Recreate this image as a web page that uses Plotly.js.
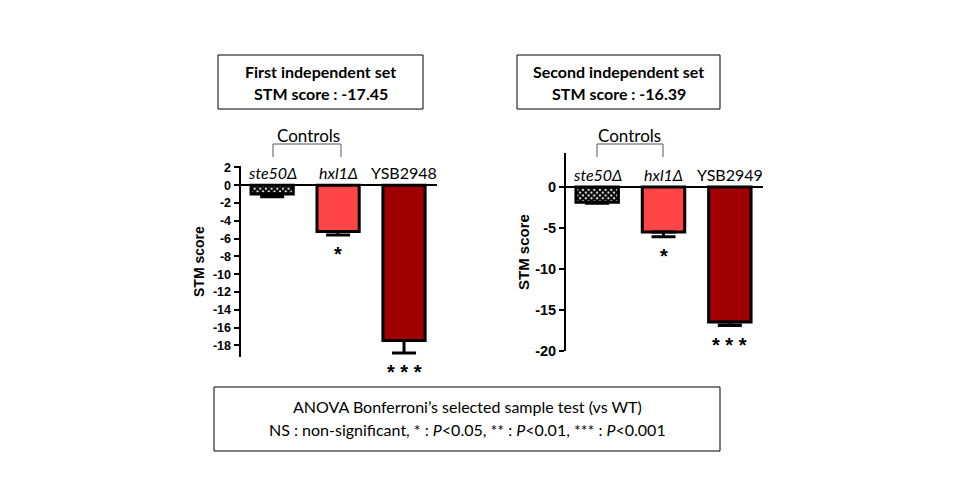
<!DOCTYPE html>
<html>
<head>
<meta charset="utf-8">
<script src="https://cdn.plot.ly/plotly-3.0.1.min.js"></script>
<style>html,body{margin:0;padding:0;background:#fff;}#chart{width:960px;height:500px;}</style>
</head>
<body>
<div id="chart"></div>
<script>
// ---- data ----
const categories1 = ["ste50Δ", "hxl1Δ", "YSB2948"];
const categories2 = ["ste50Δ", "hxl1Δ", "YSB2949"];
const values1 = [-1.0, -5.2, -17.45];
const errors1 = [0.3, 0.4, 1.4];
const values2 = [-1.85, -5.5, -16.45];
const errors2 = [0.12, 0.55, 0.45];
const signif1 = ["", "*", "***"];
const signif2 = ["", "*", "***"];
const italicCat = [true, true, false];
const yTicks1 = [2, 0, -2, -4, -6, -8, -10, -12, -14, -16, -18];
const yTicks2 = [0, -5, -10, -15, -20];
const title1 = ["First independent set", "STM score : -17.45"];
const title2 = ["Second independent set", "STM score : -16.39"];
const footLines = ["ANOVA Bonferroni’s selected sample test (vs WT)",
  "NS : non-significant, * : <i>P</i><0.05, ** : <i>P</i><0.01, *** : <i>P</i><0.001"];
const barColors = ["#ffffff", "#ff4545", "#a00000"];
const barPatterns = ["x", "", ""];

// ---- layout helpers (pixel -> paper) ----
const W = 960, H = 500;
const px = x => x / W;
const py = y => 1 - y / H;

function barTraces(cats, vals, errs, xa, ya) {
  return cats.map((c, i) => {
    const m = {color: barColors[i], line: {color: "#000", width: 3}};
    if (barPatterns[i]) {
      m.pattern = {shape: barPatterns[i], fgcolor: "#000", bgcolor: "#fff",
        size: 4, solidity: 0.75, fillmode: "replace"};
    }
    return {
      type: "bar",
      x: [i], y: [vals[i]],
      xaxis: xa, yaxis: ya,
      width: 0.64,
      marker: m,
      error_y: {
        type: "data", symmetric: false,
        array: [0], arrayminus: [errs[i]],
        color: "#000", thickness: 3, width: 12
      },
      hoverinfo: "skip",
      showlegend: false
    };
  });
}

const data = barTraces(categories1, values1, errors1, "x", "y")
  .concat(barTraces(categories2, values2, errors2, "x2", "y2"));

const tickFont = (s) => ({family: "Arial, Liberation Sans, sans-serif", size: s, color: "#000", weight: "bold"});

const layout = {
  width: W, height: H,
  margin: {l: 0, r: 0, t: 0, b: 0},
  paper_bgcolor: "#fff", plot_bgcolor: "rgba(0,0,0,0)",
  barmode: "overlay",
  xaxis: {
    domain: [px(240.5), px(437)],
    range: [-0.48, 2.5],
    showgrid: false, zeroline: false, showline: false,
    showticklabels: false, ticks: "", fixedrange: true
  },
  yaxis: {
    domain: [py(357), py(166)],
    range: [-19.3, 2.15],
    tickvals: yTicks1,
    ticktext: yTicks1.map(String),
    showgrid: false,
    zeroline: true, zerolinecolor: "#000", zerolinewidth: 2,
    showline: true, linecolor: "#000", linewidth: 2,
    ticks: "outside", ticklen: 5, tickwidth: 2, tickcolor: "#000",
    tickfont: tickFont(12.5), anchor: "x", fixedrange: true
  },
  xaxis2: {
    domain: [px(566), px(763)],
    range: [-0.47, 2.5],
    showgrid: false, zeroline: false, showline: false,
    showticklabels: false, ticks: "", anchor: "y2", fixedrange: true
  },
  yaxis2: {
    domain: [py(351), py(153)],
    range: [-20, 4.15],
    tickvals: yTicks2,
    ticktext: yTicks2.map(String),
    showgrid: false,
    zeroline: true, zerolinecolor: "#000", zerolinewidth: 2,
    showline: true, linecolor: "#000", linewidth: 2,
    ticks: "outside", ticklen: 5, tickwidth: 2, tickcolor: "#000",
    tickfont: tickFont(14.5), anchor: "x2", fixedrange: true
  },
  shapes: [],
  annotations: []
};

const calibri = "Lato, Carlito, Calibri, sans-serif";

// boxes
function box(x0, y0, x1, y1) {
  layout.shapes.push({type: "rect", xref: "paper", yref: "paper",
    x0: px(x0), x1: px(x1), y0: py(y1), y1: py(y0),
    line: {color: "#000", width: 1}, fillcolor: "rgba(0,0,0,0)"});
}
box(218, 55, 423, 109);
box(517, 55, 720, 109);
box(214, 387, 720, 451);

function text(t, x, y, size, opts) {
  layout.annotations.push(Object.assign({
    text: t, xref: "paper", yref: "paper", x: px(x), y: py(y),
    xanchor: "center", yanchor: "middle", showarrow: false,
    font: {family: calibri, size: size, color: "#000"}
  }, opts || {}));
}
text("<b>" + title1[0] + "</b>", 320.5, 71, 16);
text("<b>" + title1[1] + "</b>", 320.5, 94, 16);
text("<b>" + title2[0] + "</b>", 618.5, 71, 16);
text("<b>" + title2[1] + "</b>", 618.5, 94, 16);
text(footLines[0], 467, 406, 16);
text(footLines[1], 467, 429, 16);

// y axis titles
text("<b>STM score</b>", 199, 262, 14, {textangle: -90, font: {family: "Arial, Liberation Sans, sans-serif", size: 14, color: "#000"}});
text("<b>STM score</b>", 523, 252, 15, {textangle: -90, font: {family: "Arial, Liberation Sans, sans-serif", size: 15, color: "#000"}});

// Controls brackets
function bracket(x0, x1, yTop, yBot, cx) {
  layout.shapes.push({type: "path", xref: "paper", yref: "paper",
    path: `M ${px(x0)} ${py(yBot)} L ${px(x0)} ${py(yTop)} L ${px(x1)} ${py(yTop)} L ${px(x1)} ${py(yBot)}`,
    line: {color: "#555", width: 1}});
  text("Controls", cx, 135, 17);
}
bracket(273, 341, 144, 157, 308);
bracket(597, 663, 144, 157, 629);

// category labels and significance marks
function catLabels(cats, vals, errs, sig, xa, ya) {
  cats.forEach((c, i) => {
    layout.annotations.push({
      text: italicCat[i] ? "<i>" + c + "</i>" : c,
      xref: xa, yref: ya, x: i, y: 0,
      xanchor: "center", yanchor: "bottom", yshift: 1, showarrow: false,
      font: {family: calibri, size: 16, color: "#000"}
    });
    if (sig[i]) {
      layout.annotations.push({
        text: "<b>" + sig[i].split("").join(" ") + "</b>",
        xref: xa, yref: ya, x: i, y: vals[i] - errs[i],
        xanchor: "center", yanchor: "top", yshift: -6, showarrow: false,
        font: {family: "Arial, Liberation Sans, sans-serif", size: 20, color: "#000"}
      });
    }
  });
}
catLabels(categories1, values1, errors1, signif1, "x", "y");
catLabels(categories2, values2, errors2, signif2, "x2", "y2");

Plotly.newPlot("chart", data, layout, {staticPlot: true, displayModeBar: false});
</script>
</body>
</html>
